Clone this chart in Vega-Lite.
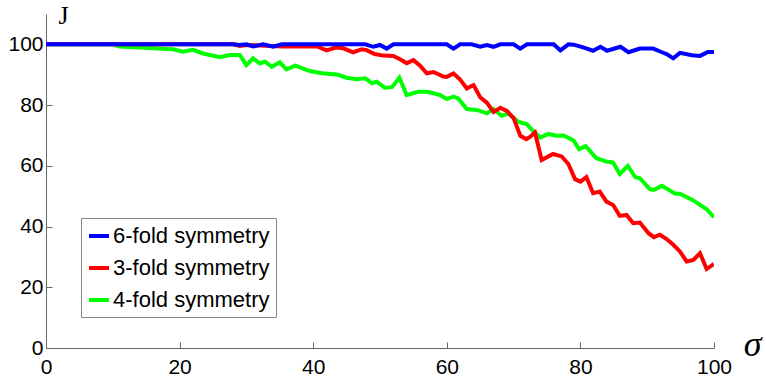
{
  "$schema": "https://vega.github.io/schema/vega-lite/v6.json",
  "width": 668,
  "height": 334,
  "autosize": {"type": "none"},
  "padding": {"left": 46, "top": 14, "right": 52, "bottom": 34},
  "background": "white",
  "config": {"view": {"stroke": null}},
  "data": {"values": [
    {"series":"4-fold symmetry","sigma":0,"J":100},{"series":"4-fold symmetry","sigma":10,"J":100},{"series":"4-fold symmetry","sigma":11,"J":99.3},{"series":"4-fold symmetry","sigma":19,"J":98.4},{"series":"4-fold symmetry","sigma":20.5,"J":97.6},{"series":"4-fold symmetry","sigma":22,"J":98.2},{"series":"4-fold symmetry","sigma":23.5,"J":97},{"series":"4-fold symmetry","sigma":26,"J":95.8},{"series":"4-fold symmetry","sigma":27.5,"J":96.5},{"series":"4-fold symmetry","sigma":29,"J":96.5},{"series":"4-fold symmetry","sigma":30,"J":93.2},{"series":"4-fold symmetry","sigma":31,"J":95.4},{"series":"4-fold symmetry","sigma":32,"J":93.7},{"series":"4-fold symmetry","sigma":32.8,"J":94.3},{"series":"4-fold symmetry","sigma":33.8,"J":92.6},{"series":"4-fold symmetry","sigma":35,"J":94.1},{"series":"4-fold symmetry","sigma":36,"J":91.8},{"series":"4-fold symmetry","sigma":37.3,"J":93},{"series":"4-fold symmetry","sigma":39.5,"J":91.2},{"series":"4-fold symmetry","sigma":41.3,"J":90.5},{"series":"4-fold symmetry","sigma":43.5,"J":90.1},{"series":"4-fold symmetry","sigma":45,"J":89},{"series":"4-fold symmetry","sigma":46.5,"J":88.5},{"series":"4-fold symmetry","sigma":47.8,"J":88.8},{"series":"4-fold symmetry","sigma":48.8,"J":87.2},{"series":"4-fold symmetry","sigma":49.5,"J":87.7},{"series":"4-fold symmetry","sigma":50.7,"J":85.7},{"series":"4-fold symmetry","sigma":51.8,"J":85.9},{"series":"4-fold symmetry","sigma":52.9,"J":89},{"series":"4-fold symmetry","sigma":54,"J":83.3},{"series":"4-fold symmetry","sigma":55.7,"J":84.4},{"series":"4-fold symmetry","sigma":57,"J":84.4},{"series":"4-fold symmetry","sigma":58,"J":83.9},{"series":"4-fold symmetry","sigma":59,"J":83.3},{"series":"4-fold symmetry","sigma":60,"J":82},{"series":"4-fold symmetry","sigma":61,"J":82.8},{"series":"4-fold symmetry","sigma":61.7,"J":82.2},{"series":"4-fold symmetry","sigma":63,"J":78.7},{"series":"4-fold symmetry","sigma":64.5,"J":78.4},{"series":"4-fold symmetry","sigma":66,"J":77.3},{"series":"4-fold symmetry","sigma":67,"J":78.7},{"series":"4-fold symmetry","sigma":68.2,"J":76.5},{"series":"4-fold symmetry","sigma":69.2,"J":77.2},{"series":"4-fold symmetry","sigma":70.7,"J":74.5},{"series":"4-fold symmetry","sigma":72,"J":73.7},{"series":"4-fold symmetry","sigma":73,"J":71.3},{"series":"4-fold symmetry","sigma":74,"J":69.3},{"series":"4-fold symmetry","sigma":75.2,"J":70.5},{"series":"4-fold symmetry","sigma":76.4,"J":69.9},{"series":"4-fold symmetry","sigma":77.5,"J":70},{"series":"4-fold symmetry","sigma":79,"J":68.3},{"series":"4-fold symmetry","sigma":79.8,"J":65.5},{"series":"4-fold symmetry","sigma":80.8,"J":66.5},{"series":"4-fold symmetry","sigma":82.4,"J":62.5},{"series":"4-fold symmetry","sigma":83.9,"J":61.4},{"series":"4-fold symmetry","sigma":84.9,"J":61.1},{"series":"4-fold symmetry","sigma":85.9,"J":57.3},{"series":"4-fold symmetry","sigma":87.1,"J":60},{"series":"4-fold symmetry","sigma":88.2,"J":56.3},{"series":"4-fold symmetry","sigma":88.9,"J":55.9},{"series":"4-fold symmetry","sigma":90.4,"J":52.3},{"series":"4-fold symmetry","sigma":91,"J":52.1},{"series":"4-fold symmetry","sigma":92.2,"J":53.4},{"series":"4-fold symmetry","sigma":94.2,"J":50.8},{"series":"4-fold symmetry","sigma":94.9,"J":50.8},{"series":"4-fold symmetry","sigma":96.9,"J":48.6},{"series":"4-fold symmetry","sigma":98.9,"J":45.7},{"series":"4-fold symmetry","sigma":100,"J":43.1},
    {"series":"3-fold symmetry","sigma":0,"J":100},{"series":"3-fold symmetry","sigma":28,"J":100},{"series":"3-fold symmetry","sigma":29,"J":99.5},{"series":"3-fold symmetry","sigma":30,"J":99.8},{"series":"3-fold symmetry","sigma":35.5,"J":99.3},{"series":"3-fold symmetry","sigma":40.5,"J":99.4},{"series":"3-fold symmetry","sigma":42,"J":98},{"series":"3-fold symmetry","sigma":43.5,"J":99},{"series":"3-fold symmetry","sigma":44.5,"J":98.7},{"series":"3-fold symmetry","sigma":46,"J":97.4},{"series":"3-fold symmetry","sigma":47.3,"J":98.4},{"series":"3-fold symmetry","sigma":48,"J":98.1},{"series":"3-fold symmetry","sigma":49.2,"J":96.8},{"series":"3-fold symmetry","sigma":50.5,"J":96.3},{"series":"3-fold symmetry","sigma":52,"J":96.2},{"series":"3-fold symmetry","sigma":53,"J":95.1},{"series":"3-fold symmetry","sigma":54,"J":93.8},{"series":"3-fold symmetry","sigma":55,"J":94.8},{"series":"3-fold symmetry","sigma":56,"J":93},{"series":"3-fold symmetry","sigma":57,"J":90.5},{"series":"3-fold symmetry","sigma":58,"J":90.9},{"series":"3-fold symmetry","sigma":59.5,"J":89.4},{"series":"3-fold symmetry","sigma":60,"J":89.3},{"series":"3-fold symmetry","sigma":61,"J":90.4},{"series":"3-fold symmetry","sigma":62,"J":88.4},{"series":"3-fold symmetry","sigma":63,"J":85.5},{"series":"3-fold symmetry","sigma":64,"J":86.6},{"series":"3-fold symmetry","sigma":65,"J":82.6},{"series":"3-fold symmetry","sigma":66,"J":80.8},{"series":"3-fold symmetry","sigma":67,"J":77.7},{"series":"3-fold symmetry","sigma":68,"J":79.1},{"series":"3-fold symmetry","sigma":69,"J":78.1},{"series":"3-fold symmetry","sigma":70,"J":75.7},{"series":"3-fold symmetry","sigma":71,"J":69.9},{"series":"3-fold symmetry","sigma":71.9,"J":68.8},{"series":"3-fold symmetry","sigma":72.5,"J":69.6},{"series":"3-fold symmetry","sigma":73.2,"J":71},{"series":"3-fold symmetry","sigma":74.2,"J":61.9},{"series":"3-fold symmetry","sigma":75.9,"J":63.9},{"series":"3-fold symmetry","sigma":77.2,"J":63.1},{"series":"3-fold symmetry","sigma":78.2,"J":60.6},{"series":"3-fold symmetry","sigma":79.2,"J":55.6},{"series":"3-fold symmetry","sigma":80,"J":54.8},{"series":"3-fold symmetry","sigma":80.9,"J":56.3},{"series":"3-fold symmetry","sigma":81.9,"J":51},{"series":"3-fold symmetry","sigma":82.9,"J":51.5},{"series":"3-fold symmetry","sigma":83.9,"J":48.2},{"series":"3-fold symmetry","sigma":84.9,"J":47.1},{"series":"3-fold symmetry","sigma":85.9,"J":43.5},{"series":"3-fold symmetry","sigma":86.9,"J":43.8},{"series":"3-fold symmetry","sigma":87.9,"J":41.1},{"series":"3-fold symmetry","sigma":88.9,"J":41.3},{"series":"3-fold symmetry","sigma":90.2,"J":37.8},{"series":"3-fold symmetry","sigma":91,"J":36.5},{"series":"3-fold symmetry","sigma":91.9,"J":37.3},{"series":"3-fold symmetry","sigma":92.9,"J":35.9},{"series":"3-fold symmetry","sigma":93.9,"J":34},{"series":"3-fold symmetry","sigma":94.9,"J":31.8},{"series":"3-fold symmetry","sigma":95.9,"J":28.5},{"series":"3-fold symmetry","sigma":96.9,"J":29},{"series":"3-fold symmetry","sigma":97.9,"J":31.2},{"series":"3-fold symmetry","sigma":98.9,"J":26},{"series":"3-fold symmetry","sigma":100,"J":27.7},
    {"series":"6-fold symmetry","sigma":0,"J":100},{"series":"6-fold symmetry","sigma":28,"J":100},{"series":"6-fold symmetry","sigma":29,"J":99.8},{"series":"6-fold symmetry","sigma":30,"J":100},{"series":"6-fold symmetry","sigma":31,"J":99.3},{"series":"6-fold symmetry","sigma":32.5,"J":100},{"series":"6-fold symmetry","sigma":34,"J":99.2},{"series":"6-fold symmetry","sigma":35.3,"J":100},{"series":"6-fold symmetry","sigma":47.8,"J":100},{"series":"6-fold symmetry","sigma":49,"J":99.2},{"series":"6-fold symmetry","sigma":50,"J":99.8},{"series":"6-fold symmetry","sigma":51,"J":98.6},{"series":"6-fold symmetry","sigma":52,"J":100},{"series":"6-fold symmetry","sigma":60,"J":100},{"series":"6-fold symmetry","sigma":61,"J":98.6},{"series":"6-fold symmetry","sigma":62,"J":100},{"series":"6-fold symmetry","sigma":63.7,"J":100},{"series":"6-fold symmetry","sigma":65,"J":99.2},{"series":"6-fold symmetry","sigma":66,"J":99.8},{"series":"6-fold symmetry","sigma":67,"J":99.2},{"series":"6-fold symmetry","sigma":68,"J":100},{"series":"6-fold symmetry","sigma":70,"J":100},{"series":"6-fold symmetry","sigma":71,"J":98.6},{"series":"6-fold symmetry","sigma":72,"J":100},{"series":"6-fold symmetry","sigma":76,"J":100},{"series":"6-fold symmetry","sigma":77,"J":98},{"series":"6-fold symmetry","sigma":78.2,"J":100},{"series":"6-fold symmetry","sigma":79,"J":99.9},{"series":"6-fold symmetry","sigma":80.4,"J":99},{"series":"6-fold symmetry","sigma":81.9,"J":97.9},{"series":"6-fold symmetry","sigma":83,"J":99.2},{"series":"6-fold symmetry","sigma":84,"J":97.9},{"series":"6-fold symmetry","sigma":86,"J":99.2},{"series":"6-fold symmetry","sigma":87.2,"J":97.4},{"series":"6-fold symmetry","sigma":88.9,"J":98.6},{"series":"6-fold symmetry","sigma":90.9,"J":98.6},{"series":"6-fold symmetry","sigma":92.2,"J":97.4},{"series":"6-fold symmetry","sigma":92.9,"J":96.8},{"series":"6-fold symmetry","sigma":93.9,"J":95.4},{"series":"6-fold symmetry","sigma":94.9,"J":97.2},{"series":"6-fold symmetry","sigma":96.7,"J":96.4},{"series":"6-fold symmetry","sigma":97.9,"J":96.2},{"series":"6-fold symmetry","sigma":99.1,"J":97.5},{"series":"6-fold symmetry","sigma":100,"J":97.5}
  ]},
  "encoding": {
    "x": {
      "field": "sigma", "type": "quantitative",
      "scale": {"domain": [0, 100], "nice": false, "zero": false},
      "axis": {
        "values": [0, 20, 40, 60, 80, 100],
        "grid": false,
        "title": "σ",
        "titleFont": "Liberation Serif",
        "titleFontStyle": "italic",
        "titleFontWeight": "normal",
        "titleFontSize": 36,
        "titleColor": "black",
        "titleX": 706,
        "titleY": 7,
        "titleAlign": "center",
        "titleBaseline": "alphabetic",
        "titleAnchor": null,
        "domainColor": "#666666",
        "tickColor": "#666666",
        "tickSize": -6,
        "labelPadding": 14,
        "labelFont": "Liberation Sans",
        "labelFontSize": 21,
        "labelColor": "black",
        "labelFlush": false,
        "labelOverlap": false
      }
    },
    "y": {
      "field": "J", "type": "quantitative",
      "scale": {"domain": [0, 110], "nice": false},
      "axis": {
        "values": [0, 20, 40, 60, 80, 100],
        "grid": false,
        "title": "J",
        "titleFont": "Liberation Serif",
        "titleFontWeight": "normal",
        "titleFontSize": 26,
        "titleColor": "black",
        "titleAngle": 0,
        "titleX": 17,
        "titleY": 9,
        "titleAlign": "center",
        "titleBaseline": "alphabetic",
        "titleAnchor": null,
        "domainColor": "#666666",
        "tickColor": "#666666",
        "tickSize": -6,
        "labelPadding": 9,
        "labelFont": "Liberation Sans",
        "labelFontSize": 21,
        "labelColor": "black",
        "labelFlush": false,
        "labelOverlap": false
      }
    },
    "color": {
      "field": "series", "type": "nominal",
      "scale": {
        "domain": ["6-fold symmetry", "3-fold symmetry", "4-fold symmetry"],
        "range": ["#0000ff", "#ff0000", "#00ff00"]
      },
      "legend": {
        "title": null,
        "orient": "none",
        "legendX": 35,
        "legendY": 204,
        "symbolType": "stroke",
        "symbolSize": 400,
        "symbolStrokeWidth": 4,
        "labelFont": "Liberation Sans",
        "labelFontSize": 22,
        "labelColor": "black",
        "labelOffset": 2,
        "labelLimit": 400,
        "rowPadding": 9,
        "padding": 6,
        "strokeColor": "#888888",
        "fillColor": "white",
        "cornerRadius": 0
      }
    }
  },
  "layer": [
    {
      "transform": [{"filter": "datum.series === '4-fold symmetry'"}],
      "mark": {"type": "line", "strokeWidth": 4, "clip": true}
    },
    {
      "transform": [{"filter": "datum.series === '3-fold symmetry'"}],
      "mark": {"type": "line", "strokeWidth": 4, "clip": true}
    },
    {
      "transform": [{"filter": "datum.series === '6-fold symmetry'"}],
      "mark": {"type": "line", "strokeWidth": 4, "clip": true}
    }
  ]
}
